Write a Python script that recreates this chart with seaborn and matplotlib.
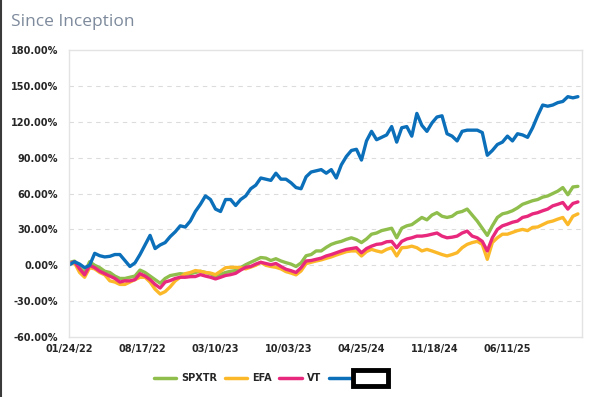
import numpy as np
import pandas as pd
import matplotlib
matplotlib.use("Agg")
import matplotlib.pyplot as plt
from matplotlib.lines import Line2D
import seaborn as sns

# trading days since 01/24/22
days = list(range(0, 1011, 10))

spxtr = [2.5, 3.5, -2, -6, 3, 0, -2, -5, -6, -9, -11, -11, -10, -9, -4, -6, -9, -12, -15, -11,
         -8.6, -7.8, -7, -7.5, -7, -6, -5, -6, -7, -9.4, -7.5, -6, -5, -4.4, -2, 0.5, 2.5, 4.5, 6.5, 6,
         4, 5.5, 3.6, 2.2, 1, -1, 2, 8, 9, 12, 12, 15, 17.5, 19, 20, 21.7, 23, 21.5, 19, 22,
         26, 27, 29, 30, 31, 23, 31, 33, 34, 37, 40, 38, 42, 44, 41, 40, 41, 44, 45, 47,
         42, 37, 31, 25, 33, 40, 43, 44, 45.6, 48, 51, 52.5, 54, 55, 57, 58, 60, 62, 65, 59,
         65.5, 66]

efa = [1, 2, -6, -10, -2, -3, -6, -8, -13, -14, -16, -16, -14, -12, -10, -10, -14, -20, -24, -22,
       -18, -13, -10, -7, -6, -4.4, -5, -6, -6.5, -7.8, -5, -2, -1.7, -1.7, -2, -3, -1.5, 0, 2.5, 0,
       -1, -1.7, -3, -5.3, -6.5, -8, -4.7, 1.4, 2.5, 3.6, 4.5, 5.8, 7, 8.6, 10, 11.4, 12, 12, 7.8, 11.5,
       13.3, 12, 11, 13.3, 14.7, 7.8, 14.7, 15, 16, 14.7, 12, 13.3, 12, 10.5, 9, 7.8, 9, 10.5, 14.7, 17.5,
       19, 20, 17.5, 5, 19, 23, 26, 26, 27.5, 29, 30, 29, 31.7, 32, 34, 36, 37, 38.6, 40, 34,
       41, 43]

vt = [1.5, 3, -3, -8, 0, -2, -5, -7, -9, -11, -14, -13, -13, -12, -7, -9, -12, -16, -19, -14,
      -12.8, -11, -10, -10, -9.5, -9.4, -7.8, -9, -10, -11.4, -10, -8.5, -7.8, -6.7, -4, -1.7, -1, 1, 2.5, 1.5,
      0.5, 1.5, -1, -3.3, -4.5, -6, -2, 3.6, 4, 5, 6, 7.8, 9, 10.5, 12, 13.3, 14, 14.7, 10.5, 14,
      16, 17.5, 18, 19.7, 20, 14.7, 20, 22, 23, 24.4, 24.4, 25, 26, 27, 24.4, 23, 23.5, 24.4, 27, 28.6,
      24.4, 23, 20, 12, 23, 30, 33, 34.4, 36, 37, 40, 41, 43, 44, 45.6, 47, 49.7, 51, 52.5, 47,
      51.7, 53]

fund = [0.5, 3, 1, -2, 0, 10, 8, 7, 7.5, 9, 9, 4, -1, 2, 9, 17, 25, 14, 17, 19,
        24, 28, 33, 32, 37, 45, 51, 58, 55, 47, 45, 55, 55, 50, 55, 58, 64, 67, 73, 72,
        71, 77, 72, 72, 69, 65, 64, 74, 78, 79, 80, 77, 80, 73, 84, 91, 96, 97, 88, 104,
        112, 105, 107, 109, 116, 103, 115, 116, 108, 127, 117, 112, 119, 124, 125, 110, 108, 104, 112, 113,
        113, 113, 111, 92, 96, 101, 103, 108, 104, 110, 109, 107, 115, 125, 134, 133, 134, 136, 137, 141,
        140, 141]

series_names = ["SPXTR", "EFA", "VT", "Fund"]
colors = ["#8fbe4c", "#fbb829", "#e8287c", "#0b6fba"]
tick_days = [0, 145, 290, 435, 580, 725, 870]
tick_labels = ["01/24/22", "08/17/22", "03/10/23", "10/03/23", "04/25/24", "11/18/24", "06/11/25"]
y_ticks = [-60, -30, 0, 30, 60, 90, 120, 150, 180]

df = pd.DataFrame({"day": days, "SPXTR": spxtr, "EFA": efa, "VT": vt, "Fund": fund})
long_df = df.melt(id_vars="day", var_name="series", value_name="ret")

sns.set_style("white")
plt.rcParams["font.family"] = ["Liberation Sans Narrow", "DejaVu Sans"]

fig = plt.figure(figsize=(5.92, 3.97), dpi=100)
ax = fig.add_axes([0.1166, 0.151, 0.8664, 0.723])

sns.lineplot(data=long_df, x="day", y="ret", hue="series", hue_order=series_names,
             palette=colors, linewidth=2.4, ax=ax, legend=False)

ax.set_xlim(-1, 1018)
ax.set_ylim(-60, 180)
ax.set_yticks(y_ticks)
ax.set_yticklabels([f"{v:.2f}%" for v in y_ticks], fontsize=7, fontweight="bold")
ax.set_xticks(tick_days)
ax.set_xticklabels(tick_labels, fontsize=7, fontweight="bold")
ax.tick_params(axis="both", length=0)
ax.tick_params(axis="y", pad=8)
ax.tick_params(axis="x", pad=5)
ax.set_xlabel("")
ax.set_ylabel("")

for v in y_ticks[1:-1]:
    ax.axhline(v, color="#dcdcdc", lw=0.8, ls=(0, (4, 4)), zorder=0)
for s in ax.spines.values():
    s.set_color("#e3e3e3")
    s.set_linewidth(1)

handles = [Line2D([0], [0], color=c, lw=2.5) for c in colors]
labels = ["SPXTR", "EFA", "VT", "\u2002" * 6]
leg = fig.legend(handles, labels, loc="center", bbox_to_anchor=(0.455, 0.048), ncol=4,
                 frameon=False, fontsize=7, handlelength=2.3, columnspacing=0.8, handletextpad=0.5)
for t in leg.get_texts():
    t.set_fontweight("bold")
leg.get_texts()[-1].set_bbox(dict(facecolor="white", edgecolor="black", linewidth=3.5, pad=2))

fig.text(0.019, 0.935, "Since Inception", fontsize=12.5, color="#7d8a9c",
         family=["Open Sans", "DejaVu Sans"], va="baseline")
fig.add_artist(Line2D([0.002, 0.002], [0, 1], color="#3a3a3a", lw=1.5))

fig.savefig("out.png", dpi=100)
